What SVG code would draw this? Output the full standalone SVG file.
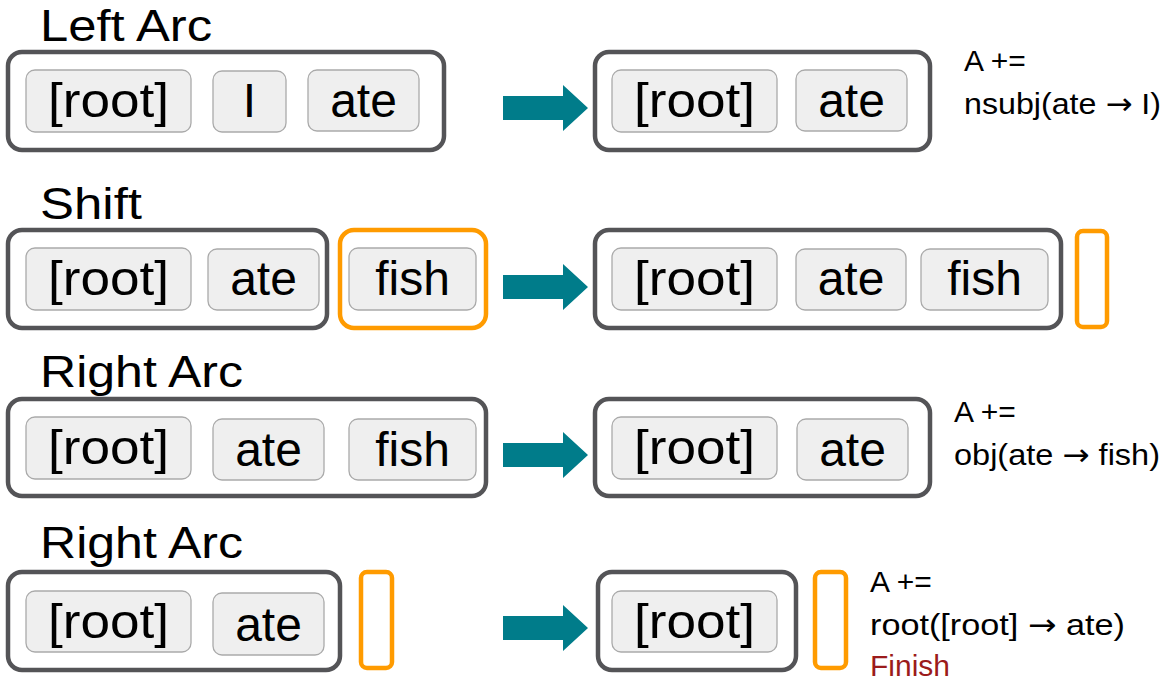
<svg xmlns="http://www.w3.org/2000/svg" width="1164" height="680" viewBox="0 0 1164 680">
<style>
.title{font-family:"Liberation Sans",Arial,sans-serif;font-size:44px;fill:#000}
.stack{fill:#fff;stroke:#545457;stroke-width:4.5}
.buf{fill:#fff;stroke:#FF9B00;stroke-width:4.5}
.tok{fill:#EFEFEF;stroke:#AAAAAA;stroke-width:1.3}
.tt{font-family:"Liberation Sans",Arial,sans-serif;font-size:48px;fill:#000;text-anchor:middle}
.note{font-family:"Liberation Sans",Arial,sans-serif;font-size:30px;fill:#000}
.ar{font-family:"DejaVu Sans",sans-serif}
.fin{fill:#9B1B1B}
.arr{fill:#007C8A}
</style>
<rect width="1164" height="680" fill="#fff"/>

<!-- Row 1: Left Arc -->
<text class="title" x="40" y="41" textLength="172" lengthAdjust="spacingAndGlyphs">Left Arc</text>
<g id="r1-left-stack">
<rect class="stack" x="8" y="52" width="436" height="98" rx="14"/>
<g id="r1-l-root"><rect class="tok" x="26" y="70" width="165" height="62" rx="9"/><text class="tt" x="108.5" y="117" textLength="121" lengthAdjust="spacingAndGlyphs">[root]</text></g>
<g id="r1-l-I"><rect class="tok" x="213" y="71" width="73" height="61" rx="9"/><text class="tt" x="249.5" y="117">I</text></g>
<g id="r1-l-ate"><rect class="tok" x="308" y="70" width="111" height="61" rx="9"/><text class="tt" x="363.5" y="117">ate</text></g>
</g>
<g id="r1-right-stack">
<rect class="stack" x="595" y="52" width="335" height="98" rx="14"/>
<g id="r1-r-root"><rect class="tok" x="612" y="70" width="165" height="62" rx="9"/><text class="tt" x="694.5" y="117" textLength="121" lengthAdjust="spacingAndGlyphs">[root]</text></g>
<g id="r1-r-ate"><rect class="tok" x="796" y="70" width="111" height="61" rx="9"/><text class="tt" x="851.5" y="117">ate</text></g>
</g>
<g id="r1-note">
<text class="note" x="964" y="71">A +=</text>
<text class="note" x="964" y="114" textLength="197" lengthAdjust="spacingAndGlyphs">nsubj(ate <tspan class="ar">→</tspan> I)</text>
</g>

<!-- Row 2: Shift -->
<text class="title" x="40" y="219" textLength="102" lengthAdjust="spacingAndGlyphs">Shift</text>
<g id="r2-left-stack">
<rect class="stack" x="8" y="230" width="319" height="98" rx="14"/>
<g id="r2-l-root"><rect class="tok" x="26" y="248" width="165" height="62" rx="9"/><text class="tt" x="108.5" y="295" textLength="121" lengthAdjust="spacingAndGlyphs">[root]</text></g>
<g id="r2-l-ate"><rect class="tok" x="208" y="249" width="111" height="61" rx="9"/><text class="tt" x="263.5" y="295">ate</text></g>
</g>
<g id="r2-left-buffer">
<rect class="buf" x="340" y="230" width="146" height="98" rx="14"/>
<g id="r2-l-fish"><rect class="tok" x="349" y="248" width="127" height="62" rx="9"/><text class="tt" x="412.5" y="295">fish</text></g>
</g>
<g id="r2-right-stack">
<rect class="stack" x="595" y="230" width="466" height="98" rx="14"/>
<g id="r2-r-root"><rect class="tok" x="612" y="248" width="165" height="62" rx="9"/><text class="tt" x="694.5" y="295" textLength="121" lengthAdjust="spacingAndGlyphs">[root]</text></g>
<g id="r2-r-ate"><rect class="tok" x="796" y="249" width="110" height="61" rx="9"/><text class="tt" x="851" y="295">ate</text></g>
<g id="r2-r-fish"><rect class="tok" x="921" y="249" width="127" height="61" rx="9"/><text class="tt" x="984.5" y="295">fish</text></g>
</g>
<g id="r2-right-buffer"><rect class="buf" x="1077" y="231" width="30" height="96" rx="6"/></g>

<!-- Row 3: Right Arc -->
<text class="title" x="40" y="387" textLength="203" lengthAdjust="spacingAndGlyphs">Right Arc</text>
<g id="r3-left-stack">
<rect class="stack" x="8" y="399" width="478" height="97" rx="14"/>
<g id="r3-l-root"><rect class="tok" x="26" y="417" width="165" height="62" rx="9"/><text class="tt" x="108.5" y="464" textLength="121" lengthAdjust="spacingAndGlyphs">[root]</text></g>
<g id="r3-l-ate"><rect class="tok" x="213" y="419" width="111" height="61" rx="9"/><text class="tt" x="268.5" y="466">ate</text></g>
<g id="r3-l-fish"><rect class="tok" x="349" y="419" width="127" height="61" rx="9"/><text class="tt" x="412.5" y="466">fish</text></g>
</g>
<g id="r3-right-stack">
<rect class="stack" x="595" y="399" width="335" height="97" rx="14"/>
<g id="r3-r-root"><rect class="tok" x="612" y="417" width="165" height="62" rx="9"/><text class="tt" x="694.5" y="464" textLength="121" lengthAdjust="spacingAndGlyphs">[root]</text></g>
<g id="r3-r-ate"><rect class="tok" x="797" y="419" width="111" height="61" rx="9"/><text class="tt" x="852.5" y="466">ate</text></g>
</g>
<g id="r3-note">
<text class="note" x="954" y="422">A +=</text>
<text class="note" x="954" y="465" textLength="206" lengthAdjust="spacingAndGlyphs">obj(ate <tspan class="ar">→</tspan> fish)</text>
</g>

<!-- Row 4: Right Arc -->
<text class="title" x="40" y="558" textLength="203" lengthAdjust="spacingAndGlyphs">Right Arc</text>
<g id="r4-left-stack">
<rect class="stack" x="8" y="572" width="332" height="98" rx="14"/>
<g id="r4-l-root"><rect class="tok" x="26" y="591" width="165" height="61" rx="9"/><text class="tt" x="108.5" y="638" textLength="121" lengthAdjust="spacingAndGlyphs">[root]</text></g>
<g id="r4-l-ate"><rect class="tok" x="213" y="593" width="111" height="62" rx="9"/><text class="tt" x="268.5" y="641">ate</text></g>
</g>
<g id="r4-left-buffer"><rect class="buf" x="361" y="572" width="31" height="96" rx="6"/></g>
<g id="r4-right-stack">
<rect class="stack" x="598" y="572" width="198" height="98" rx="14"/>
<g id="r4-r-root"><rect class="tok" x="612" y="591" width="165" height="61" rx="9"/><text class="tt" x="694.5" y="638" textLength="121" lengthAdjust="spacingAndGlyphs">[root]</text></g>
</g>
<g id="r4-right-buffer"><rect class="buf" x="815" y="572" width="31" height="96" rx="6"/></g>
<g id="r4-note">
<text class="note" x="870" y="592">A +=</text>
<text class="note" x="870" y="635" textLength="255" lengthAdjust="spacingAndGlyphs">root([root] <tspan class="ar">→</tspan> ate)</text>
<text class="note fin" x="870" y="676">Finish</text>
</g>

<!-- Connectors -->
<g id="connectors">
<polygon class="arr" points="503,96 563,96 563,85 588,108 563,131 563,120 503,120"/>
<polygon class="arr" points="503,275 563,275 563,264 588,287 563,310 563,299 503,299"/>
<polygon class="arr" points="503,443 563,443 563,432 588,455 563,478 563,467 503,467"/>
<polygon class="arr" points="503,616 563,616 563,605 588,628 563,651 563,640 503,640"/>
</g>
</svg>
